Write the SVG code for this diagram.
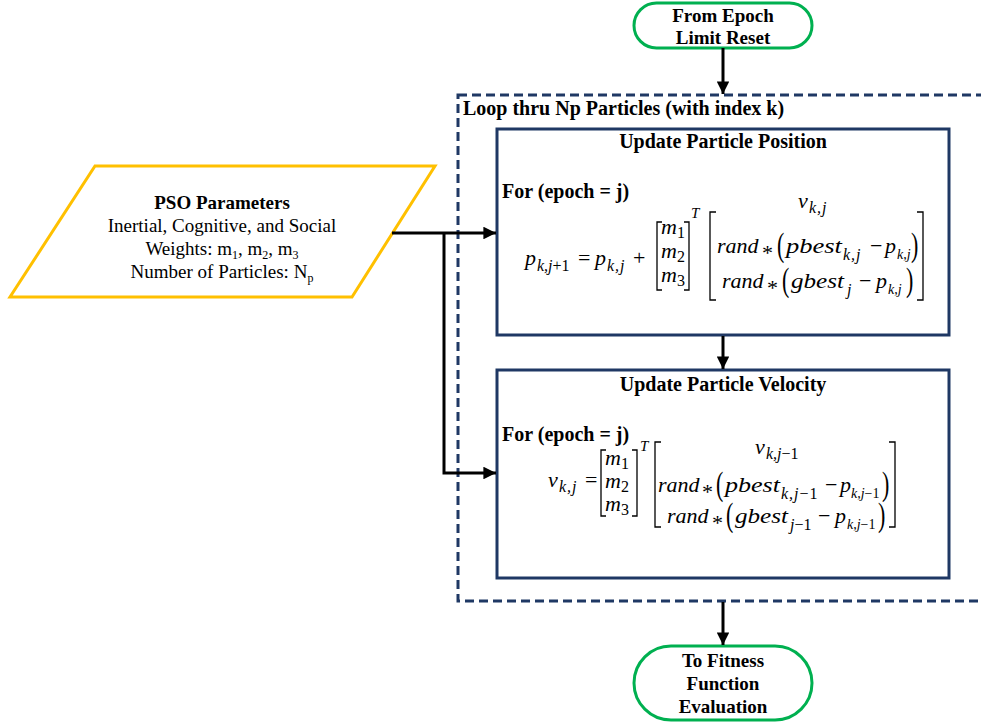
<svg xmlns="http://www.w3.org/2000/svg" width="981" height="725" viewBox="0 0 981 725" font-family="'Liberation Serif', serif">
  <style>
    .bg { fill: #ffffff; }
    .term { fill: #ffffff; stroke: #00b050; stroke-width: 3; }
    .io { fill: #ffffff; stroke: #ffc000; stroke-width: 3; }
    .proc { fill: #ffffff; stroke: #1f3864; stroke-width: 3; }
    .loop { fill: none; stroke: #1f3864; stroke-width: 3; stroke-dasharray: 9 5; }
    .wire { fill: none; stroke: #000000; stroke-width: 3; }
    .brk { fill: none; stroke: #000000; stroke-width: 1.3; }
    text { font-family: 'Liberation Serif', serif; fill: #000000; }
    .b { font-weight: bold; font-size: 19px; }
    .h { font-weight: bold; font-size: 20px; }
    .r { font-size: 19px; }
    .mi { font-style: italic; font-size: 22px; }
    .mo { font-size: 22px; }
    .sub { font-style: italic; font-size: 16px; }
    .sm { font-style: italic; font-size: 14px; }
    .ls { letter-spacing: 1px; }
    .up { font-style: normal; }
    .sup { font-style: italic; font-size: 15px; }
  </style>
  <defs>
    <marker id="arrow" viewBox="0 0 10 10" refX="10" refY="5" markerWidth="4.2" markerHeight="4.2" orient="auto" markerUnits="strokeWidth">
      <path d="M0,0 L10,5 L0,10 z" fill="#000000"/>
    </marker>
  </defs>

  <rect class="bg" x="0" y="0" width="981" height="725"/>

  <!-- dashed loop boundary (runs past the right edge) -->
  <g id="loop">
    <rect class="loop" x="458" y="95" width="560" height="506"/>
    <text class="h" x="463" y="115">Loop thru Np Particles (with index k)</text>
  </g>

  <g id="start">
    <rect class="term" x="634" y="3" width="178" height="45" rx="22.5"/>
    <text class="b" x="723" y="22" text-anchor="middle">From Epoch</text>
    <text class="b" x="723" y="44" text-anchor="middle">Limit Reset</text>
  </g>

  <g id="params">
    <polygon class="io" points="95,166 435,166 352,297 10,297"/>
    <text class="b" x="222" y="209" text-anchor="middle">PSO Parameters</text>
    <text class="r" x="222" y="232" text-anchor="middle">Inertial, Cognitive, and Social</text>
    <text class="r" x="222" y="255" text-anchor="middle">Weights: m<tspan font-size="12" dy="4">1</tspan><tspan dy="-4">, m</tspan><tspan font-size="12" dy="4">2</tspan><tspan dy="-4">, m</tspan><tspan font-size="12" dy="4">3</tspan></text>
    <text class="r" x="222" y="278" text-anchor="middle">Number of Particles: N<tspan font-size="12" dy="4">p</tspan></text>
  </g>

  <g id="position">
    <rect class="proc" x="497" y="129" width="452" height="206"/>
    <text class="h" x="723" y="148" text-anchor="middle">Update Particle Position</text>
    <text class="h" x="502" y="198">For (epoch = j)</text>
    <!-- p_{k,j+1} = p_{k,j} + [m1 m2 m3]^T [ ... ] -->
    <text class="mi" x="525" y="265">p</text>
    <text class="sub" x="537" y="271">k,j<tspan class="up">+1</tspan></text>
    <text class="mo" x="578" y="265">=</text>
    <text class="mi" x="595" y="265">p</text>
    <text class="sub ls" x="607" y="271">k,j</text>
    <text class="mo" x="633" y="265">+</text>
    <path class="brk" d="M662,222 H657 V290 H662 M684,222 H689 V290 H684"/>
    <text class="mi" x="661" y="234">m</text><text class="sub up" x="677" y="238">1</text>
    <text class="mi" x="661" y="258">m</text><text class="sub up" x="677" y="262">2</text>
    <text class="mi" x="661" y="282">m</text><text class="sub up" x="677" y="286">3</text>
    <text class="sup" x="691" y="218">T</text>
    <path class="brk" d="M716,212 H710 V300 H716 M917,212 H923 V300 H917"/>
    <text class="mi" x="798" y="208">v</text>
    <text class="sub ls" x="809" y="213">k,j</text>
    <text class="mi" x="717" y="253">rand</text>
    <text class="mo" x="762" y="260">*</text>
    <text class="mo" transform="translate(777,256) scale(1,1.55)">(</text>
    <text class="mi" x="786" y="253" textLength="56" lengthAdjust="spacingAndGlyphs">pbest</text>
    <text class="sub ls" x="843" y="260">k,j</text>
    <text class="mo" x="870" y="253">−</text>
    <text class="mi" x="885" y="253">p</text>
    <text class="sm" x="897" y="259">k,j</text>
    <text class="mo" transform="translate(911,256) scale(1,1.55)">)</text>
    <text class="mi" x="722" y="288">rand</text>
    <text class="mo" x="767" y="295">*</text>
    <text class="mo" transform="translate(782,291) scale(1,1.55)">(</text>
    <text class="mi" x="791" y="288" textLength="53" lengthAdjust="spacingAndGlyphs">gbest</text>
    <text class="sub" x="847" y="295">j</text>
    <text class="mo" x="859" y="288">−</text>
    <text class="mi" x="876" y="288">p</text>
    <text class="sm" x="888" y="294">k,j</text>
    <text class="mo" transform="translate(906,291) scale(1,1.55)">)</text>
  </g>

  <g id="velocity">
    <rect class="proc" x="497" y="370" width="452" height="208"/>
    <text class="h" x="723" y="391" text-anchor="middle">Update Particle Velocity</text>
    <text class="h" x="502" y="441">For (epoch = j)</text>
    <!-- v_{k,j} = [m1 m2 m3]^T [ ... ] -->
    <text class="mi" x="548" y="487">v</text>
    <text class="sub ls" x="559" y="492">k,j</text>
    <text class="mo" x="585" y="487">=</text>
    <path class="brk" d="M606,450 H601 V516 H606 M632,450 H637 V516 H632"/>
    <text class="mi" x="605" y="465">m</text><text class="sub up" x="621" y="469">1</text>
    <text class="mi" x="605" y="488">m</text><text class="sub up" x="621" y="492">2</text>
    <text class="mi" x="605" y="511">m</text><text class="sub up" x="621" y="515">3</text>
    <text class="sup" x="640" y="451">T</text>
    <path class="brk" d="M661,442 H655 V527 H661 M889,442 H895 V527 H889"/>
    <text class="mi" x="755" y="454">v</text>
    <text class="sub" x="766" y="459">k,j<tspan class="up">−1</tspan></text>
    <text class="mi" x="658" y="492">rand</text>
    <text class="mo" x="702" y="499">*</text>
    <text class="mo" transform="translate(716,495) scale(1,1.55)">(</text>
    <text class="mi" x="725" y="492" textLength="55" lengthAdjust="spacingAndGlyphs">pbest</text>
    <text class="sub ls" x="781" y="499">k,j<tspan class="up">−1</tspan></text>
    <text class="mo" x="825" y="492">−</text>
    <text class="mi" x="840" y="492">p</text>
    <text class="sm" x="851" y="498">k,j<tspan class="up">−1</tspan></text>
    <text class="mo" transform="translate(882,495) scale(1,1.55)">)</text>
    <text class="mi" x="667" y="523">rand</text>
    <text class="mo" x="712" y="530">*</text>
    <text class="mo" transform="translate(726,526) scale(1,1.55)">(</text>
    <text class="mi" x="735" y="523" textLength="53" lengthAdjust="spacingAndGlyphs">gbest</text>
    <text class="sub" x="790" y="530">j<tspan class="up">−1</tspan></text>
    <text class="mo" x="818" y="523">−</text>
    <text class="mi" x="835" y="523">p</text>
    <text class="sm" x="847" y="529">k,j<tspan class="up">−1</tspan></text>
    <text class="mo" transform="translate(878,526) scale(1,1.55)">)</text>
  </g>

  <g id="end">
    <rect class="term" x="634" y="646" width="178" height="74" rx="37"/>
    <text class="b" x="723" y="667" text-anchor="middle">To Fitness</text>
    <text class="b" x="723" y="690" text-anchor="middle">Function</text>
    <text class="b" x="723" y="713" text-anchor="middle">Evaluation</text>
  </g>

  <g id="connectors">
    <path class="wire" d="M723,48 V94" marker-end="url(#arrow)"/>
    <path class="wire" d="M392,233 H496" marker-end="url(#arrow)"/>
    <path class="wire" d="M444,233 V473 H496" marker-end="url(#arrow)"/>
    <path class="wire" d="M723,336 V369" marker-end="url(#arrow)"/>
    <path class="wire" d="M723,602 V645" marker-end="url(#arrow)"/>
  </g>
</svg>
